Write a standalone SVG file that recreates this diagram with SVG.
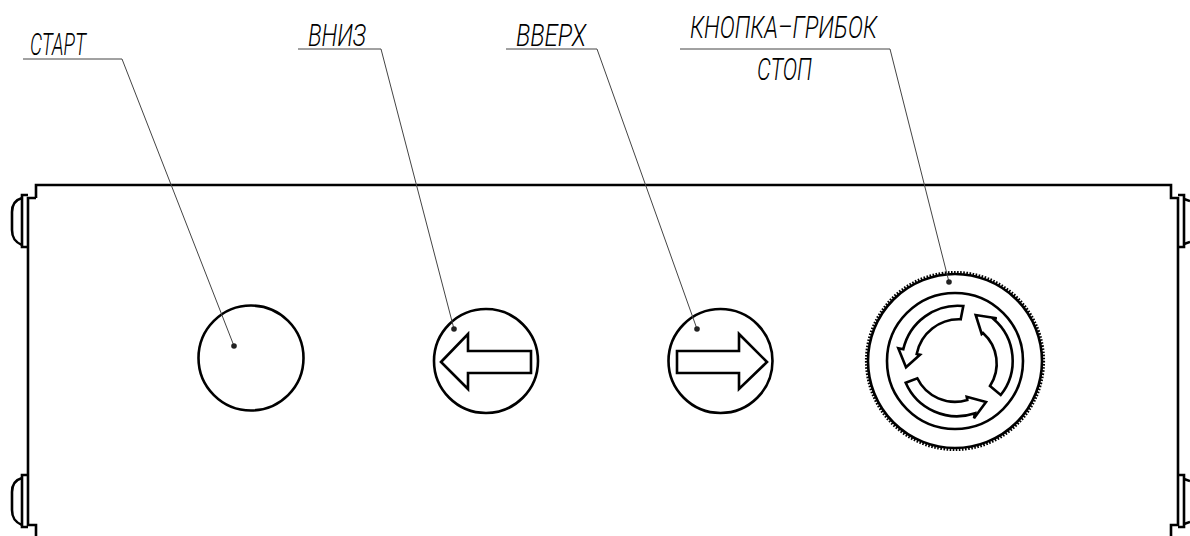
<svg xmlns="http://www.w3.org/2000/svg" width="1190" height="536" viewBox="0 0 1190 536">
<style>
.o{fill:none;stroke:#000;stroke-width:2.6;stroke-linejoin:miter}
.t{fill:none;stroke:#000;stroke-width:3.2;stroke-dasharray:1.6 1.5}
.l{fill:none;stroke:#444;stroke-width:1}
.d{fill:#222}
text{font-family:"Roboto","Liberation Sans",Arial,sans-serif;font-weight:300;font-style:italic;fill:#000;font-size:31px}
</style>
<rect width="1190" height="536" fill="#fff"/>
<g id="enclosure">
<path class="o" d="M36 198V185H1171V198H1178V525H1171V536"/>
<path class="o" d="M36 536V525H28V198H36"/>
<path class="o" d="M28 195H22V247H28M28 475H22V527H28"/>
<path class="o" d="M22 198C15 200 12 205 12 212V230C12 238 15 242 22 245M22 478C15 480 12 485 12 492V510C12 518 15 522 22 525"/>
<path class="o" d="M1178 195H1184V247H1178M1178 475H1184V527H1178"/>
<path class="o" d="M1184 199L1190 201M1184 244L1190 242M1184 479L1190 481M1184 524L1190 522"/>
</g>
<g id="btn-start"><circle class="o" cx="251" cy="358" r="52.5"/></g>
<g id="btn-down"><circle class="o" cx="486" cy="361" r="52"/><path class="o" d="M441 362L468 334V351H531V373H468V389Z"/></g>
<g id="btn-up"><circle class="o" cx="720.500" cy="361" r="52"/><path class="o" d="M767 362L739 334V351H677V373H739V389Z"/></g>
<g id="btn-stop">
<circle class="t" cx="955" cy="361" r="88.500"/>
<circle class="o" cx="955" cy="361" r="87"/>
<circle class="o" cx="955" cy="361" r="68"/>
<path class="o" d="M963.300 306L960.700 319.300A43 43 0 0 0 916.700 354L920 354.700L906 367.300L898.300 348.300L903.300 349.300A56 56 0 0 1 963.300 306Z"/>
<path class="o" d="M990 386A41 41 0 0 0 983 333L981.700 334L975.700 315L996.700 318.300L993.500 319A55 55 0 0 1 1000.700 395Z"/>
<path class="o" d="M905.700 382.700L917.300 378.300A42 42 0 0 0 967.300 400L966.700 396.700L986 402L974 418.300L975 413.300A56 56 0 0 1 905.700 382.700Z"/>
</g>
<g id="connectors">
<path class="l" d="M23 59H122L234 346"/>
<path class="l" d="M298 49H381L454 329"/>
<path class="l" d="M506 49H597L697 329"/>
<path class="l" d="M680 49H890L949 282"/>
<circle class="d" cx="234" cy="346" r="2.800"/>
<circle class="d" cx="454" cy="329" r="2.800"/>
<circle class="d" cx="697" cy="329" r="2.800"/>
<circle class="d" cx="949" cy="282" r="2.800"/>
</g>
<g id="labels">
<text x="30" y="55" textLength="56" lengthAdjust="spacingAndGlyphs">СТАРТ</text>
<text x="308" y="46" textLength="58" lengthAdjust="spacingAndGlyphs">ВНИЗ</text>
<text x="516" y="46" textLength="70" lengthAdjust="spacingAndGlyphs">ВВЕРХ</text>
<text x="690" y="38" textLength="187" lengthAdjust="spacingAndGlyphs">КНОПКА–ГРИБОК</text>
<text x="757" y="80" textLength="55" lengthAdjust="spacingAndGlyphs">СТОП</text>
</g>
</svg>
